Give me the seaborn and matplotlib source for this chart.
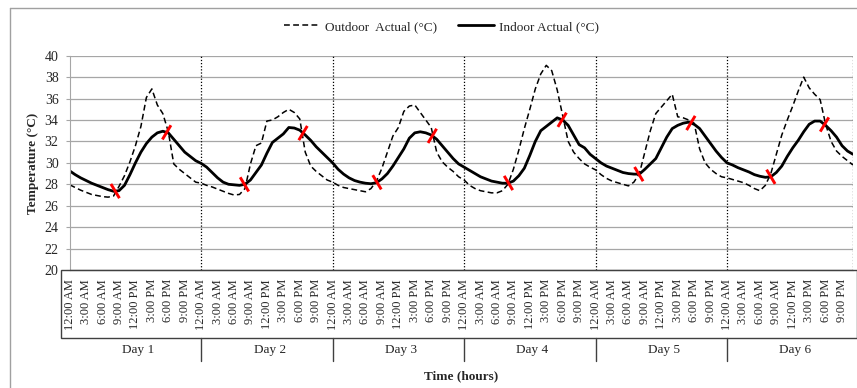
import numpy as np
import pandas as pd
import seaborn as sns
import matplotlib.pyplot as plt
from matplotlib.path import Path
from matplotlib.lines import Line2D
from matplotlib.patches import Rectangle
from matplotlib.transforms import blended_transform_factory

# hourly readings, 6 days x 24 h
outdoor = [
    27.95, 27.7, 27.45, 27.25, 27.05, 26.95, 26.85, 26.8, 26.9, 27.8, 28.8, 30.1,
    31.6, 33.4, 36.1, 36.9, 35.4, 34.6, 32.9, 29.9, 29.4, 29.0, 28.6, 28.2,
    28.1, 27.9, 27.75, 27.55, 27.35, 27.15, 27.0, 27.05, 27.6, 29.9, 31.6, 31.85,
    33.9, 34.0, 34.3, 34.7, 35.0, 34.7, 34.1, 31.0, 29.7, 29.2, 28.8, 28.4,
    28.2, 27.9, 27.7, 27.6, 27.5, 27.4, 27.3, 27.6, 28.3, 29.5, 31.0, 32.5,
    33.3, 34.8, 35.3, 35.4, 34.7, 34.0, 33.3, 31.0, 30.1, 29.6, 29.2, 28.7,
    28.4, 27.9, 27.6, 27.4, 27.3, 27.2, 27.2, 27.4, 28.0, 29.4, 31.2, 33.2,
    35.0, 36.9, 38.3, 39.1, 38.6, 36.8, 34.4, 32.0, 31.0, 30.4, 29.9, 29.6,
    29.35, 28.9, 28.55, 28.3, 28.15, 28.0, 27.85, 28.2, 29.0, 31.0, 33.0, 34.6,
    35.2, 35.8, 36.4, 34.3, 34.2, 34.0, 33.7, 31.3, 30.0, 29.4, 29.0, 28.7,
    28.6, 28.45, 28.3, 28.15, 27.9, 27.6, 27.4, 27.9, 29.0, 30.8, 32.6, 34.0,
    35.3, 36.7, 38.0, 37.0, 36.4, 35.9, 33.6, 32.0, 31.1, 30.6, 30.2, 29.8,
]
indoor = [
    29.25, 28.9, 28.6, 28.35, 28.1, 27.9, 27.7, 27.5, 27.35, 27.4, 27.9, 28.9,
    30.0, 31.0, 31.8, 32.4, 32.8, 32.95, 32.8, 32.2, 31.6, 31.0, 30.6, 30.2,
    29.95, 29.6, 29.1, 28.6, 28.2, 28.0, 27.95, 27.9, 28.0, 28.4, 29.1, 29.8,
    30.9, 31.9, 32.3, 32.7, 33.3, 33.25, 33.05, 32.6, 32.1, 31.5, 31.0, 30.5,
    30.0, 29.4, 28.95, 28.6, 28.35, 28.2, 28.1, 28.05, 28.15, 28.5, 29.0, 29.7,
    30.5, 31.3, 32.3, 32.8, 32.9, 32.8, 32.6, 32.2, 31.6, 31.0, 30.4, 29.9,
    29.6, 29.3, 29.0, 28.7, 28.5, 28.3, 28.2, 28.1, 28.1, 28.3, 28.8, 29.5,
    30.7, 32.0, 33.0, 33.4, 33.8, 34.2, 34.0, 33.5, 32.6, 31.7, 31.4, 30.8,
    30.4, 30.0, 29.7, 29.5, 29.3, 29.1, 29.0, 28.95, 28.95, 29.4, 29.9, 30.4,
    31.4, 32.4, 33.2, 33.5, 33.7, 33.8, 33.6, 33.2, 32.5, 31.8, 31.1, 30.5,
    30.0, 29.8, 29.55, 29.35, 29.15, 28.9, 28.75, 28.65, 28.7, 29.1, 29.7, 30.6,
    31.4, 32.1, 32.9, 33.6, 33.9, 33.9, 33.5, 33.0, 32.4, 31.6, 31.1, 30.8,
]
hours = np.arange(len(indoor))

time_labels = ["12:00 AM", "3:00 AM", "6:00 AM", "9:00 AM",
               "12:00 PM", "3:00 PM", "6:00 PM", "9:00 PM"]
days = ["Day 1", "Day 2", "Day 3", "Day 4", "Day 5", "Day 6"]

# crossing points marked in red (hour index)
morning_cross = [8.3, 31.9, 56.1, 80.1, 103.9, 128.0]
evening_cross = [17.7, 42.6, 66.2, 89.9, 113.4, 137.8]

W, H = 857, 388
sns.set_style("white")
plt.rcParams["font.family"] = ["Liberation Serif", "DejaVu Serif"]

fig = plt.figure(figsize=(W / 100, H / 100), dpi=100)
ax = fig.add_axes([69.7 / W, 1 - 270 / H, (853 - 69.7) / W, (270 - 55.7) / H])

sns.lineplot(x=hours, y=outdoor, color="black", lw=1.1, ls=(0, (3.8, 2.2)), ax=ax)
sns.lineplot(x=hours, y=indoor, color="black", lw=2.0, ax=ax)

back = Path([(-0.6, 1), (0.6, -1)], [Path.MOVETO, Path.LINETO])
fwd = Path([(-0.6, -1), (0.6, 1)], [Path.MOVETO, Path.LINETO])
for xs, mk in [(morning_cross, back), (evening_cross, fwd)]:
    sns.scatterplot(x=xs, y=np.interp(xs, hours, indoor), marker=mk, s=105,
                    edgecolor="red", facecolor="none", linewidth=2.1,
                    zorder=5, ax=ax)

bounds = list(range(24, len(hours), 24)) + [hours[-1]]
for b in bounds:
    ax.axvline(b, color="black", ls=(0, (1, 1.5)), lw=0.9, zorder=1)

ax.set_xlim(0, hours[-1])
ax.set_ylim(20, 40)
ax.set_yticks(range(20, 41, 2))
ax.grid(axis="y", color="#a6a6a6", lw=0.9)
ax.set_xticks(hours[::3])
ax.set_xticklabels(time_labels * len(days), rotation=90)
ax.tick_params(axis="x", length=0, pad=6.5, labelsize=9)
ax.tick_params(axis="y", length=3, color="#a6a6a6", pad=5, labelsize=10,
               left=True)
for s in ["top", "right"]:
    ax.spines[s].set_visible(False)
ax.spines["left"].set_color("#a6a6a6")
ax.spines["bottom"].set_color("#404040")
ax.set_xlabel("")
ax.set_ylabel("")

# category box under the axis
fig.add_artist(Rectangle((60.7 / W, 1 - 338 / H), (W - 60.7) / W, 68 / H,
                         fill=False, edgecolor="#404040", lw=1))
tr = blended_transform_factory(ax.transData, fig.transFigure)
for b in bounds[:-1]:
    ax.plot([b, b], [1 - 338 / H, 1 - 361 / H], color="#404040", lw=1,
            transform=tr, clip_on=False)
for i, d in enumerate(days):
    ax.text(i * 24 + 12.5, 1 - 350 / H, d, transform=tr, ha="center",
            va="center", fontsize=9.5)

fig.text(461 / W, 1 - 376 / H, "Time (hours)", ha="center", va="center",
         fontsize=9.5, fontweight="bold")
fig.text(33 / W, 1 - 163 / H, "Temperature (°C)", ha="center", va="center",
         rotation=90, fontsize=9.5, fontweight="bold")

handles = [Line2D([], [], color="black", lw=1.1, ls=(0, (3.8, 2.2))),
           Line2D([], [], color="black", lw=2.0)]
fig.legend(handles, ["Outdoor  Actual (°C)", "Indoor Actual (°C)"],
           loc="center", bbox_to_anchor=(0.515, 1 - 26.7 / H), ncol=2,
           frameon=False, fontsize=9.5, handlelength=2.7, handletextpad=0.4,
           columnspacing=1.6)

# outer chart frame
fig.add_artist(Line2D([10 / W, 1], [1 - 8 / H, 1 - 8 / H], color="#a0a0a0", lw=1))
fig.add_artist(Line2D([10 / W, 10 / W], [0, 1 - 8 / H], color="#a0a0a0", lw=1))

fig.savefig("out.png", dpi=100)
